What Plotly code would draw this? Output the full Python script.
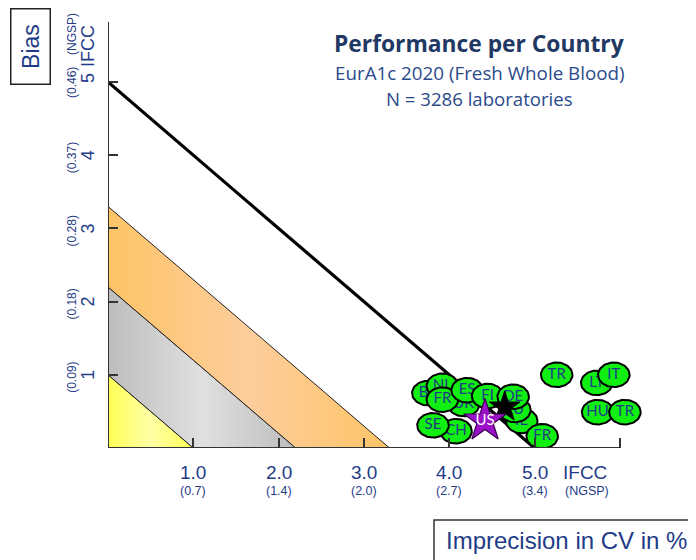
import numpy as np
import plotly.graph_objects as go

# ---------------- data ----------------
band_edges = [1.0, 2.2, 3.3]          # CV + bias limits of the three criteria bands
limit_total = [5.0]                    # total-error limit line (CV + bias)
y_ticks = [1, 2, 3, 4, 5]
y_tick_text = ["1", "2", "3", "4", "5"]
y_tick_ngsp = ["(0.09)", "(0.18)", "(0.28)", "(0.37)", "(0.46)"]
x_ticks = [1, 2, 3, 4, 5, 6]
x_tick_text = ["1.0", "2.0", "3.0", "4.0", "5.0"]
x_tick_ngsp = ["(0.7)", "(1.4)", "(2.0)", "(2.7)", "(3.4)"]

countries = ["BE", "NL", "UK", "FR", "ES", "FI", "CH", "SE", "IE", "LU", "DE", "FR",
             "TR", "LT", "IT", "HU", "TR"]
imprecision = [3.75, 3.92, 4.17, 3.92, 4.21, 4.45, 4.08, 3.81, 4.85, 4.77, 4.75, 5.09,
               5.26, 5.73, 5.93, 5.74, 6.06]
bias = [0.75, 0.85, 0.60, 0.66, 0.79, 0.71, 0.23, 0.31, 0.37, 0.52, 0.70, 0.16,
        1.00, 0.89, 1.00, 0.49, 0.49]

us_cv, us_bias = [4.42], [0.37]
all_cv, all_bias = [4.65], [0.56]

# ---------------- layout constants ----------------
OFF = 8                      # page body margin in the browser
W, H = 688, 552
ML, MR, MT, MB = 100, 0, 14, 112
PX_X, PX_Y = 85.3, 73.2
XMAX = (W - ML - MR) / PX_X
YMAX = (H - MT - MB) / PX_Y

NAVY = "#1f3c88"
TITLE = "#1f3864"
TICKFONT = "Liberation Sans, Arial, sans-serif"
CAL = "Open Sans, Lato, sans-serif"
LAB = "Lato, Open Sans, sans-serif"


def px(xs):
    return (xs - OFF - ML) / (W - ML - MR)


def py(ys):
    return (H - MB - (ys - OFF)) / (H - MT - MB)


fig = go.Figure()

# ---------------- bands ----------------
lo = [0.0] + band_edges[:-1]
band_scales = [
    [[0, "#ffff55"], [0.5, "#ffffa6"], [1, "#ffff55"]],
    [[0, "#bdbdbd"], [0.5, "#e0e0e0"], [1, "#bdbdbd"]],
    [[0, "#fdc466"], [0.5, "#fdcd9c"], [1, "#fdc466"]],
]
for a, b, cs in zip(lo, band_edges, band_scales):
    if a == 0:
        xs, ys = [0, 0, b, 0], [0, b, 0, 0]
    else:
        xs, ys = [0, 0, b, a, 0], [a, b, 0, 0, a]
    fig.add_trace(go.Scatter(x=xs, y=ys, mode="lines", fill="toself",
                             fillgradient=dict(type="horizontal", colorscale=cs),
                             line=dict(color="#222", width=1), hoverinfo="skip",
                             showlegend=False))

# limit line
fig.add_trace(go.Scatter(x=[0, limit_total[0]], y=[limit_total[0], 0], mode="lines",
                         line=dict(color="black", width=3.2), showlegend=False,
                         hoverinfo="skip"))

# ---------------- country ellipses ----------------
rx, ry = 15.8 / PX_X, 12.3 / PX_Y
t = np.linspace(0, 2 * np.pi, 72)
for name, cx, cy in zip(countries, imprecision, bias):
    fig.add_trace(go.Scatter(x=cx + rx * np.cos(t), y=cy + ry * np.sin(t), mode="lines",
                             fill="toself", fillcolor="#11ee11",
                             line=dict(color="black", width=2), showlegend=False,
                             hoverinfo="skip"))
    fig.add_trace(go.Scatter(x=[cx], y=[cy], mode="text", text=[name],
                             textfont=dict(family=LAB, size=15, color=NAVY),
                             showlegend=False, hoverinfo="skip"))

# stars
fig.add_trace(go.Scatter(x=all_cv, y=all_bias, mode="markers",
                         marker=dict(symbol="star", size=23, color="black",
                                     line=dict(color="black", width=1)),
                         showlegend=False, hoverinfo="skip"))
fig.add_trace(go.Scatter(x=us_cv, y=us_bias, mode="markers+text", text=["US"],
                         textposition="middle center",
                         textfont=dict(family=LAB, size=15, color="white"),
                         marker=dict(symbol="star", size=32, color="#9b11c8",
                                     line=dict(color="#3a0050", width=1.2)),
                         showlegend=False, hoverinfo="skip"))

# ---------------- axes lines ----------------
fig.add_shape(type="line", xref="x", yref="y", x0=0, x1=0, y0=0, y1=YMAX,
              line=dict(color="#333", width=2), layer="above")
fig.add_shape(type="line", xref="x", yref="y", x0=0, x1=x_ticks[-1], y0=0, y1=0,
              line=dict(color="#333", width=2), layer="above")

ann = []
# y tick labels
for v, txt, ng in zip(y_ticks, y_tick_text, y_tick_ngsp):
    ann.append(dict(x=0, y=v, xref="x", yref="y", xshift=-20, yshift=(4 if v == 5 else 0),
                    text=txt, textangle=-90, showarrow=False,
                    xanchor="center", yanchor="middle",
                    font=dict(family=TICKFONT, size=18, color=NAVY)))
    ann.append(dict(x=0, y=v, xref="x", yref="y", xshift=-36, yshift=(-1 if v == 5 else -3),
                    text=ng, textangle=-90, showarrow=False,
                    xanchor="center", yanchor="middle",
                    font=dict(family=TICKFONT, size=12, color=NAVY)))
ann.append(dict(x=0, y=y_ticks[-1], xref="x", yref="y", xshift=-20, yshift=36,
                text="IFCC", textangle=-90, showarrow=False,
                xanchor="center", yanchor="middle",
                font=dict(family=TICKFONT, size=18, color=NAVY)))
ann.append(dict(x=0, y=y_ticks[-1], xref="x", yref="y", xshift=-36, yshift=48,
                text="(NGSP)", textangle=-90, showarrow=False,
                xanchor="center", yanchor="middle",
                font=dict(family=TICKFONT, size=12, color=NAVY)))

# x tick labels
for v, txt, ng in zip(x_ticks, x_tick_text, x_tick_ngsp):
    ann.append(dict(x=v, y=0, xref="x", yref="y", yshift=-24, text=txt, showarrow=False,
                    xanchor="center", yanchor="middle",
                    font=dict(family=TICKFONT, size=19, color=NAVY)))
    ann.append(dict(x=v, y=0, xref="x", yref="y", yshift=-43, text=ng, showarrow=False,
                    xanchor="center", yanchor="middle",
                    font=dict(family=TICKFONT, size=12.5, color=NAVY)))
ann.append(dict(x=px(585), y=0, xref="paper", yref="y", yshift=-24, text="IFCC",
                showarrow=False, xanchor="center", yanchor="middle",
                font=dict(family=TICKFONT, size=19, color=NAVY)))
ann.append(dict(x=px(587), y=0, xref="paper", yref="y", yshift=-43, text="(NGSP)",
                showarrow=False, xanchor="center", yanchor="middle",
                font=dict(family=TICKFONT, size=12.5, color=NAVY)))

# titles
ann.append(dict(x=px(479), y=py(43), xref="paper", yref="paper",
                text="<b>Performance per Country</b>", showarrow=False,
                xanchor="center", yanchor="middle",
                font=dict(family=CAL, size=22.8, color=TITLE)))
ann.append(dict(x=px(480), y=py(73), xref="paper", yref="paper",
                text="EurA1c 2020 (Fresh Whole Blood)", showarrow=False,
                xanchor="center", yanchor="middle",
                font=dict(family=CAL, size=18.8, color="#2b4a8b")))
ann.append(dict(x=px(479), y=py(98), xref="paper", yref="paper",
                text="N = 3286 laboratories", showarrow=False,
                xanchor="center", yanchor="middle",
                font=dict(family=CAL, size=18.6, color="#2b4a8b")))

# Bias box
ann.append(dict(x=px(31), y=py(47), xref="paper", yref="paper", text="Bias", textangle=-90,
                showarrow=False, xanchor="center", yanchor="middle",
                width=70, height=34, borderpad=2, bordercolor="#222",
                borderwidth=1.5, font=dict(family=TICKFONT, size=23, color=NAVY)))

# Imprecision box
fig.add_shape(type="rect", xref="paper", yref="paper", x0=px(434), x1=px(740),
              y0=py(600), y1=py(520), line=dict(color="#333", width=1.5))
ann.append(dict(x=px(444), y=py(540), xref="paper", yref="paper", xanchor="left",
                yanchor="middle", text="Imprecision in CV in %", showarrow=False,
                font=dict(family=TICKFONT, size=24, color=NAVY)))

fig.update_layout(
    width=W, height=H, autosize=False,
    margin=dict(l=ML, r=MR, t=MT, b=MB),
    paper_bgcolor="white", plot_bgcolor="white",
    showlegend=False, annotations=ann,
    xaxis=dict(range=[0, XMAX], showgrid=False, zeroline=False, showline=False,
               showticklabels=False, ticks="inside", ticklen=10, tickwidth=1.5,
               tickcolor="#333", tickvals=x_ticks),
    yaxis=dict(range=[0, YMAX], showgrid=False, zeroline=False, showline=False,
               showticklabels=False, ticks="inside", ticklen=10, tickwidth=1.5,
               tickcolor="#333", tickvals=y_ticks),
)

fig.write_html("out.html")
